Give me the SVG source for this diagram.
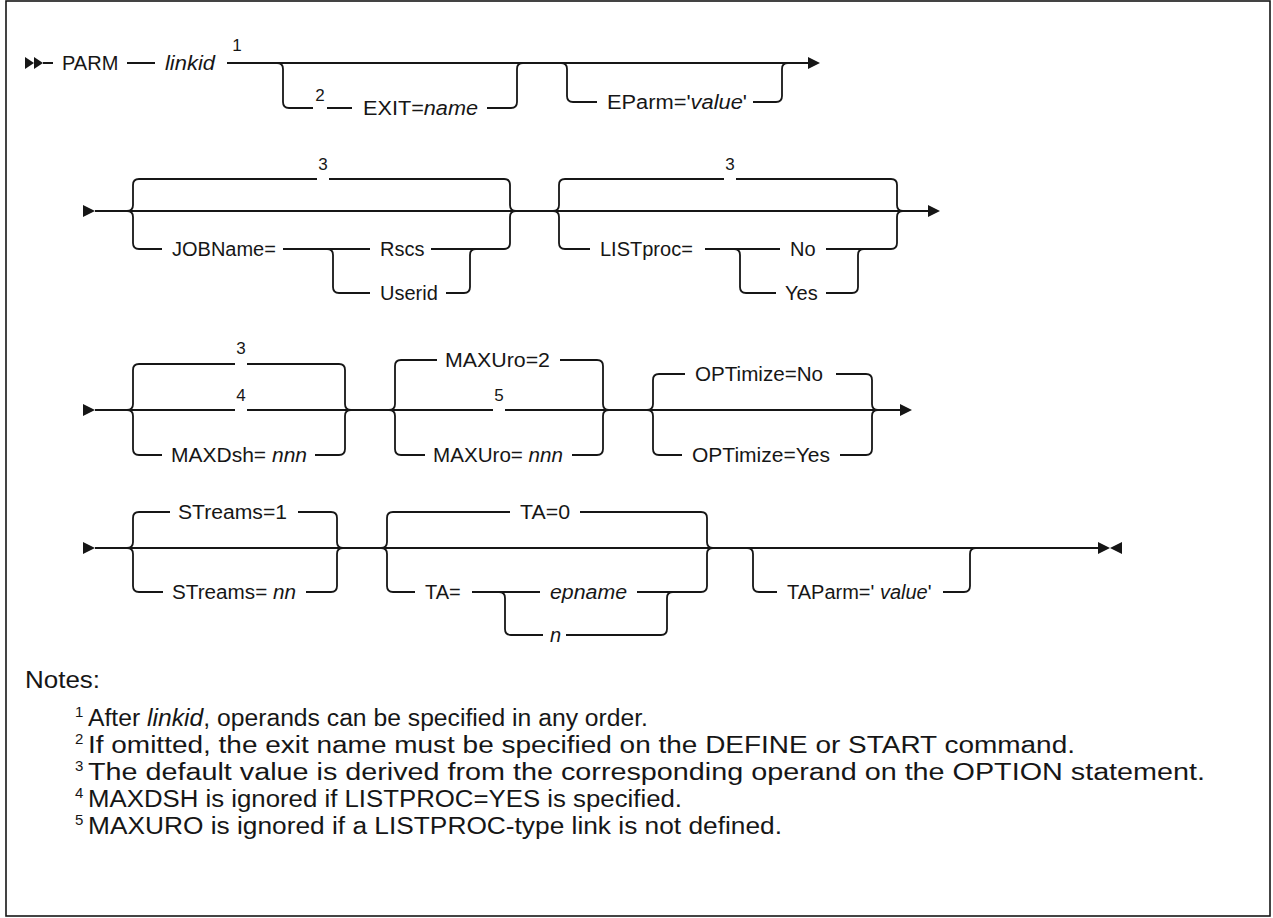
<svg xmlns="http://www.w3.org/2000/svg" width="1273" height="918" viewBox="0 0 1273 918">
<style>
.ln{fill:none;stroke:#161616;stroke-width:1.8}
.ar{fill:#161616;stroke:none}
.t{font-family:"Liberation Sans",Arial,sans-serif;font-size:20px;fill:#161616}
.i{font-style:italic}
.sup{font-family:"Liberation Sans",Arial,sans-serif;font-size:17px;fill:#161616;text-anchor:middle}
.nt{font-family:"Liberation Sans",Arial,sans-serif;font-size:23px;fill:#161616}
.ns{font-family:"Liberation Sans",Arial,sans-serif;font-size:15px;fill:#161616}
</style>
<rect x="0" y="0" width="1273" height="918" fill="#fff"/>
<rect x="6" y="1" width="1264" height="915" fill="none" stroke="#161616" stroke-width="1.6"/>

<g id="connectors">
<!-- row 1 -->
<polygon class="ar" points="25,57 34,63 25,69"/>
<polygon class="ar" points="34,57 43,63 34,69"/>
<path class="ln" d="M43 63H53 M127 63H155 M227 63H812"/>
<polygon class="ar" points="808,57 820,63 808,69"/>
<path class="ln" d="M277 63Q283 63 283 69V102Q283 108 289 108H313 M327 108H352 M487 108H511Q517 108 517 102V69Q517 63 523 63"/>
<path class="ln" d="M561 63Q567 63 567 69V96Q567 102 573 102H597 M753 102H776Q782 102 782 96V69Q782 63 788 63"/>
<!-- row 2 -->
<polygon class="ar" points="83,205 95,211 83,217"/>
<path class="ln" d="M95 211H930"/>
<polygon class="ar" points="928,205 940,211 928,217"/>
<path class="ln" d="M127 211Q133 211 133 205V185Q133 179 139 179H317 M329 179H504Q510 179 510 185V205Q510 211 516 211"/>
<path class="ln" d="M127 211Q133 211 133 217V243Q133 249 139 249H162 M283 249H370 M431 249H504Q510 249 510 243V217Q510 211 516 211"/>
<path class="ln" d="M327 249Q333 249 333 255V287Q333 293 339 293H370 M446 293H464Q470 293 470 287V255Q470 249 476 249"/>
<path class="ln" d="M553 211Q559 211 559 205V185Q559 179 565 179H724 M736 179H891Q897 179 897 185V205Q897 211 903 211"/>
<path class="ln" d="M553 211Q559 211 559 217V243Q559 249 565 249H590 M705 249H780 M826 249H891Q897 249 897 243V217Q897 211 903 211"/>
<path class="ln" d="M734 249Q740 249 740 255V287Q740 293 746 293H776 M826 293H852Q858 293 858 287V255Q858 249 864 249"/>
<!-- row 3 -->
<polygon class="ar" points="83,404 95,410 83,416"/>
<path class="ln" d="M95 410H235 M247 410H493 M505 410H900"/>
<polygon class="ar" points="900,404 912,410 900,416"/>
<path class="ln" d="M127 410Q133 410 133 404V370Q133 364 139 364H235 M247 364H339Q345 364 345 370V404Q345 410 351 410"/>
<path class="ln" d="M127 410Q133 410 133 416V449Q133 455 139 455H162 M315 455H339Q345 455 345 449V416Q345 410 351 410"/>
<path class="ln" d="M389 410Q395 410 395 404V366Q395 360 401 360H437 M560 360H597Q603 360 603 366V404Q603 410 609 410"/>
<path class="ln" d="M389 410Q395 410 395 416V449Q395 455 401 455H425 M572 455H597Q603 455 603 449V416Q603 410 609 410"/>
<path class="ln" d="M647 410Q653 410 653 404V380Q653 374 659 374H685 M836 374H866Q872 374 872 380V404Q872 410 878 410"/>
<path class="ln" d="M647 410Q653 410 653 416V449Q653 455 659 455H682 M840 455H866Q872 455 872 449V416Q872 410 878 410"/>
<!-- row 4 -->
<polygon class="ar" points="83,542 95,548 83,554"/>
<path class="ln" d="M95 548H1100"/>
<polygon class="ar" points="1098,542 1110,548 1098,554"/>
<polygon class="ar" points="1122,542 1110,548 1122,554"/>
<path class="ln" d="M127 548Q133 548 133 542V518Q133 512 139 512H170 M298 512H331Q337 512 337 518V542Q337 548 343 548"/>
<path class="ln" d="M127 548Q133 548 133 554V586Q133 592 139 592H163 M306 592H331Q337 592 337 586V554Q337 548 343 548"/>
<path class="ln" d="M381 548Q387 548 387 542V518Q387 512 393 512H510 M580 512H701Q707 512 707 518V542Q707 548 713 548"/>
<path class="ln" d="M381 548Q387 548 387 554V586Q387 592 393 592H415 M472 592H540 M637 592H701Q707 592 707 586V554Q707 548 713 548"/>
<path class="ln" d="M499 592Q505 592 505 598V629Q505 635 511 635H543 M566 635H661Q667 635 667 629V598Q667 592 673 592"/>
<path class="ln" d="M747 548Q753 548 753 554V586Q753 592 759 592H777 M943 592H964Q970 592 970 586V554Q970 548 976 548"/>
</g>

<g id="n-parm"><text class="t" x="62" y="70">PARM</text></g>
<g id="n-linkid"><text class="t i" x="165" y="70" textLength="50" lengthAdjust="spacingAndGlyphs">linkid</text><text class="sup" x="237" y="51">1</text></g>
<g id="n-exit"><text class="sup" x="320" y="101">2</text><text class="t" x="363" y="115" textLength="115" lengthAdjust="spacingAndGlyphs">EXIT=<tspan class="i">name</tspan></text></g>
<g id="n-eparm"><text class="t" x="607" y="109" textLength="140" lengthAdjust="spacingAndGlyphs">EParm='<tspan class="i">value</tspan>'</text></g>

<g id="n-jobname"><text class="sup" x="323" y="170">3</text><text class="t" x="172" y="256">JOBName=</text><text class="t" x="380" y="256">Rscs</text><text class="t" x="380" y="300">Userid</text></g>
<g id="n-listproc"><text class="sup" x="730" y="170">3</text><text class="t" x="600" y="256">LISTproc=</text><text class="t" x="790" y="256">No</text><text class="t" x="785" y="300">Yes</text></g>

<g id="n-maxdsh"><text class="sup" x="241" y="354">3</text><text class="sup" x="241" y="401">4</text><text class="t" x="171" y="462" textLength="136" lengthAdjust="spacingAndGlyphs">MAXDsh= <tspan class="i">nnn</tspan></text></g>
<g id="n-maxuro"><text class="t" x="445" y="367" textLength="105" lengthAdjust="spacingAndGlyphs">MAXUro=2</text><text class="sup" x="499" y="401">5</text><text class="t" x="433" y="462" textLength="130" lengthAdjust="spacingAndGlyphs">MAXUro= <tspan class="i">nnn</tspan></text></g>
<g id="n-optimize"><text class="t" x="695" y="381" textLength="128" lengthAdjust="spacingAndGlyphs">OPTimize=No</text><text class="t" x="692" y="462" textLength="138" lengthAdjust="spacingAndGlyphs">OPTimize=Yes</text></g>

<g id="n-streams"><text class="t" x="178" y="519" textLength="109" lengthAdjust="spacingAndGlyphs">STreams=1</text><text class="t" x="172" y="599" textLength="124" lengthAdjust="spacingAndGlyphs">STreams= <tspan class="i">nn</tspan></text></g>
<g id="n-ta"><text class="t" x="520" y="519" textLength="50" lengthAdjust="spacingAndGlyphs">TA=0</text><text class="t" x="425" y="599">TA=</text><text class="t i" x="550" y="599" textLength="77" lengthAdjust="spacingAndGlyphs">epname</text><text class="t i" x="550" y="642">n</text></g>
<g id="n-taparm"><text class="t" x="787" y="599">TAParm=' <tspan class="i">value</tspan>'</text></g>

<g id="notes">
<text class="nt" x="25" y="688" textLength="75" lengthAdjust="spacingAndGlyphs">Notes:</text>
<text class="ns" x="75" y="717">1</text><text class="nt" x="88" y="726" textLength="560" lengthAdjust="spacingAndGlyphs">After <tspan font-style="italic">linkid</tspan>, operands can be specified in any order.</text>
<text class="ns" x="75" y="744">2</text><text class="nt" x="88" y="753" textLength="987" lengthAdjust="spacingAndGlyphs">If omitted, the exit name must be specified on the DEFINE or START command.</text>
<text class="ns" x="75" y="771">3</text><text class="nt" x="88" y="780" textLength="1117" lengthAdjust="spacingAndGlyphs">The default value is derived from the corresponding operand on the OPTION statement.</text>
<text class="ns" x="75" y="798">4</text><text class="nt" x="88" y="807" textLength="594" lengthAdjust="spacingAndGlyphs">MAXDSH is ignored if LISTPROC=YES is specified.</text>
<text class="ns" x="75" y="825">5</text><text class="nt" x="88" y="834" textLength="694" lengthAdjust="spacingAndGlyphs">MAXURO is ignored if a LISTPROC-type link is not defined.</text>
</g>
</svg>
